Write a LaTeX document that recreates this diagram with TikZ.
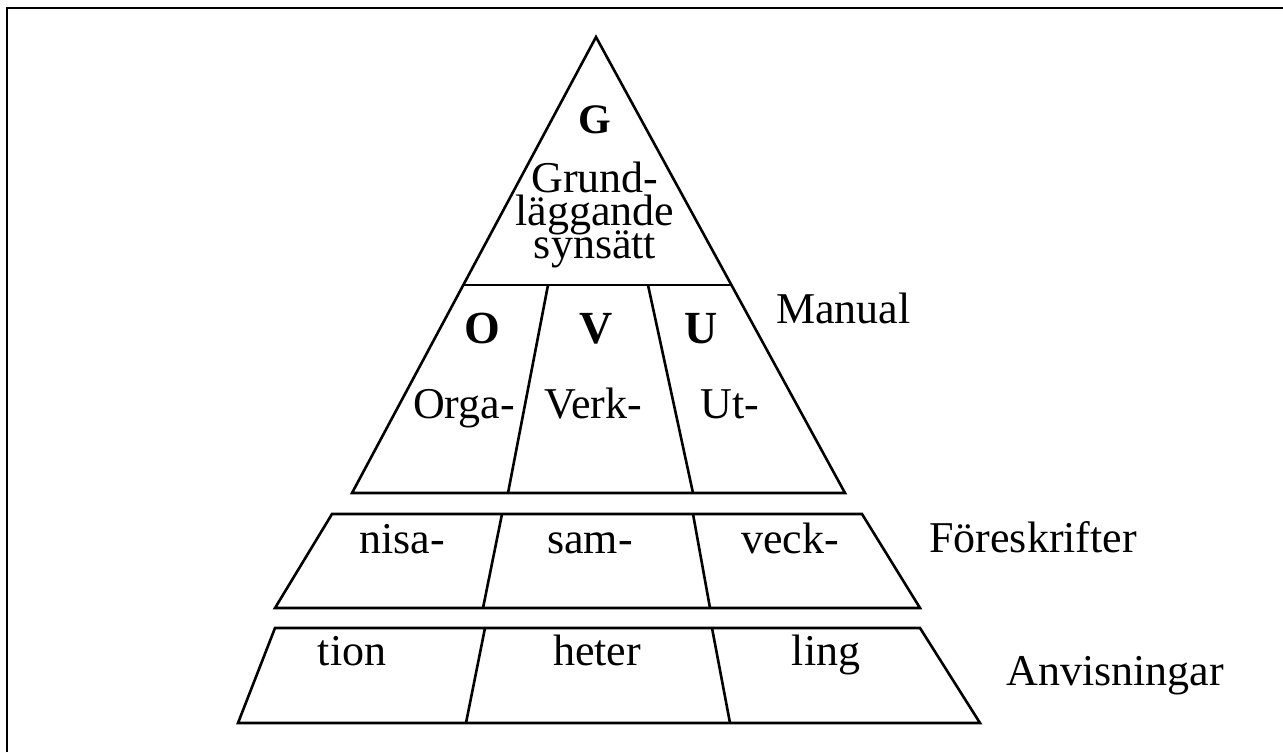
\documentclass[tikz,border=0pt]{standalone}
\usepackage{fontspec}
\setmainfont{Liberation Serif}
\usetikzlibrary{positioning}

\begin{document}
\begin{tikzpicture}[x=0.5pt,y=-0.5pt,line width=1.3pt,
    txt/.style={font=\fontsize{22}{22}\selectfont,inner sep=0pt,anchor=base},
    ltr/.style={font=\fontsize{23}{23}\selectfont\bfseries,inner sep=0pt,anchor=base}]
            \useasboundingbox (0,0) rectangle (1283,752);
            \draw[line width=1pt] (7,752) -- (7,8) -- (1283,8);
            % pyramid
            \coordinate (top) at (596,37);
            \coordinate (ml) at (463,285);
            \coordinate (mr) at (730,285);
            \coordinate (bl) at (352,493);
            \coordinate (br) at (845,493);
            \coordinate (d1t) at (548,285);
            \coordinate (d1b) at (508,493);
            \coordinate (d2t) at (648,285);
            \coordinate (d2b) at (693,493);
            \draw (top) -- (br) -- (bl) -- cycle;
            \draw (ml) -- (mr);
            \draw (d1t) -- (d1b);
            \draw (d2t) -- (d2b);
            % middle band
            \coordinate (fa) at (332,514);
            \coordinate (fb) at (862,514);
            \coordinate (fc) at (920,608);
            \coordinate (fd) at (275,608);
            \draw (fa) -- (fb) -- (fc) -- (fd) -- cycle;
            \draw (502,514) coordinate (f1t) -- (483,608) coordinate (f1b);
            \draw (693,514) coordinate (f2t) -- (710,608) coordinate (f2b);
            % bottom band
            \coordinate (aa) at (275,628);
            \coordinate (ab) at (920,628);
            \coordinate (ac) at (980,723);
            \coordinate (ad) at (238,723);
            \draw (aa) -- (ab) -- (ac) -- (ad) -- cycle;
            \draw (485,628) coordinate (a1t) -- (466,723) coordinate (a1b);
            \draw (712,628) coordinate (a2t) -- (730,723) coordinate (a2b);
            % texts
            \node[ltr,font=\fontsize{21}{21}\selectfont\bfseries] (g) at (595,133) {G};
            \node[txt,anchor=north,align=center,
                  font={\fontsize{22}{16.5}\selectfont\lineskiplimit-30pt\relax}]
                  (grund) at (595,161) {Grund-\\läggande\\synsätt};
            \node[ltr] (o) at (482,343) {O};
            \node[ltr] (v) at (596,343) {V};
            \node[ltr] (u) at (701,343) {U};
            \node[txt] (orga) at (464,418) {Orga-};
            \node[txt] (verk) at (593,418) {Verk-};
            \node[txt] (ut) at (730,418) {Ut-};
            \node[txt,anchor=base west] (man) at (775,323) {Manual};
            \node[txt] (nisa) at (402,553) {nisa-};
            \node[txt] (sam) at (590,553) {sam-};
            \node[txt] (veck) at (790,553) {veck-};
            \node[txt,anchor=base west] (fore) at (928,552) {Föreskrifter};
            \node[txt] (tion) at (352,665) {tion};
            \node[txt] (heter) at (597,665) {heter};
            \node[txt] (ling) at (826,665) {ling};
            \node[txt,anchor=base west] (anv) at (1005,685) {Anvisningar};
        \end{tikzpicture}
\end{document}
